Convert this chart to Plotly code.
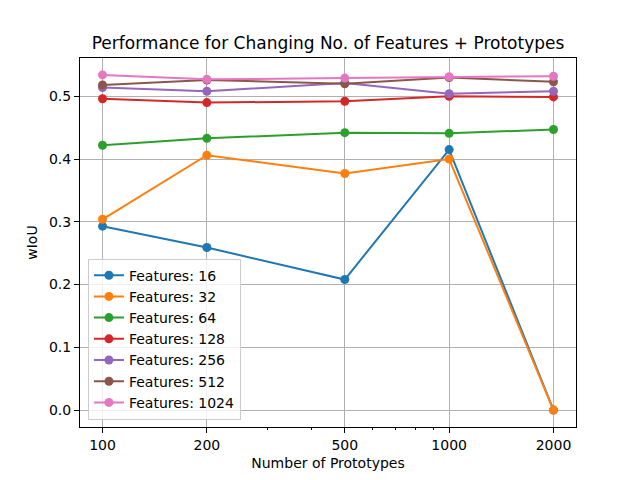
import plotly.graph_objects as go

prototypes = [100, 200, 500, 1000, 2000]
feature_sizes = [16, 32, 64, 128, 256, 512, 1024]
wiou = {
    16: [0.293, 0.259, 0.208, 0.415, 0.0],
    32: [0.304, 0.406, 0.377, 0.400, 0.0],
    64: [0.422, 0.433, 0.442, 0.441, 0.447],
    128: [0.496, 0.490, 0.492, 0.500, 0.499],
    256: [0.514, 0.508, 0.521, 0.504, 0.508],
    512: [0.518, 0.526, 0.520, 0.530, 0.523],
    1024: [0.534, 0.527, 0.529, 0.531, 0.532],
}
colors = ["#1f77b4", "#ff7f0e", "#2ca02c", "#d62728", "#9467bd", "#8c564b", "#e377c2"]

x_ticks = [100, 200, 500, 1000, 2000]
x_minor = [300, 400, 600, 700, 800, 900]
y_ticks = [0.0, 0.1, 0.2, 0.3, 0.4, 0.5]

fig = go.Figure()

for feat, col in zip(feature_sizes, colors):
    fig.add_trace(
        go.Scatter(
            x=prototypes,
            y=wiou[feat],
            mode="lines+markers",
            name=f"Features: {feat}",
            line=dict(color=col, width=2),
            marker=dict(color=col, size=9),
        )
    )

axis_style = dict(
    showline=True,
    linecolor="black",
    linewidth=1,
    mirror=True,
    ticks="outside",
    ticklen=5,
    tickcolor="black",
    showgrid=True,
    gridcolor="#b0b0b0",
    gridwidth=1,
    zeroline=False,
    tickfont=dict(size=14, color="black"),
)

# the page body adds an 8px offset, so margins are shifted to compensate
fig.update_layout(
    width=640,
    height=480,
    paper_bgcolor="white",
    plot_bgcolor="white",
    font=dict(family="DejaVu Sans", color="black"),
    margin=dict(l=72, r=72, t=50, b=61),
    title=dict(
        text="Performance for Changing No. of Features + Prototypes",
        x=0.5,
        xanchor="center",
        y=1 - 35 / 480,
        yanchor="middle",
        font=dict(size=17),
    ),
    xaxis=dict(
        type="log",
        range=[1.935, 3.366],
        tickmode="array",
        tickvals=x_ticks,
        ticktext=[str(v) for v in x_ticks],
        minor=dict(
            tickmode="array",
            tickvals=x_minor,
            ticks="outside",
            ticklen=2,
            tickcolor="black",
            showgrid=False,
        ),
        title=dict(text="Number of Prototypes", font=dict(size=14), standoff=6),
        **axis_style,
    ),
    yaxis=dict(
        range=[-0.027, 0.561],
        tickmode="array",
        tickvals=y_ticks,
        ticktext=[f"{v:.1f}" for v in y_ticks],
        title=dict(text="wIoU", font=dict(size=14), standoff=8),
        **axis_style,
    ),
    legend=dict(
        x=0.016,
        y=0.02,
        xanchor="left",
        yanchor="bottom",
        bgcolor="rgba(255,255,255,0.8)",
        bordercolor="#cccccc",
        borderwidth=1,
        font=dict(size=14),
        tracegroupgap=0,
    ),
)

fig.write_html("out.html")
